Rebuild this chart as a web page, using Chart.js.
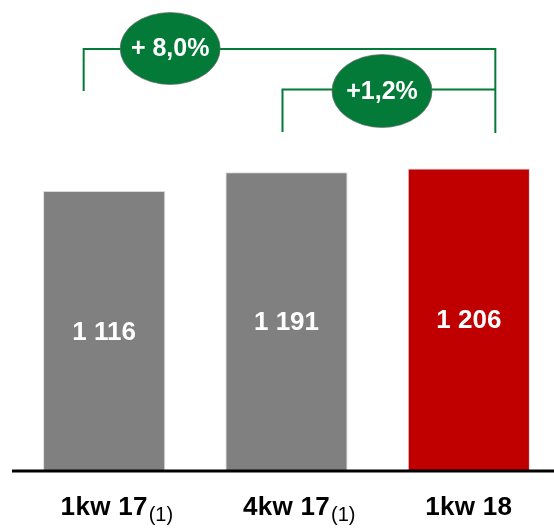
<!DOCTYPE html>
<html>
<head>
<meta charset="utf-8">
<script src="https://cdn.jsdelivr.net/npm/chart.js@4"></script>
<style>
  html, body { margin: 0; padding: 0; background: #fff; overflow: hidden; }
  #wrap { width: 554px; height: 528px; overflow: hidden; }
</style>
</head>
<body>
<div id="wrap"><canvas id="sales" width="560" height="528"></canvas></div>
<script>
// data
const periods = ['1kw 17', '4kw 17', '1kw 18'];
const footnotes = ['(1)', '(1)', ''];
const values = [1116, 1191, 1206];
const valueLabels = ['1 116', '1 191', '1 206'];
const changes = ['+ 8,0%', '+1,2%'];
const barColors = ['#808080', '#808080', '#c00000'];

const FONT = '"Liberation Sans", Arial, sans-serif';
const GREEN = '#037a37';

// labels, axis line and the growth brackets
const extras = {
    id: 'extras',
    afterDatasetsDraw(chart) {
        const c = chart.ctx;
        const xs = chart.scales.x;
        const ys = chart.scales.y;
        const meta = chart.getDatasetMeta(0);
        c.save();

        // values inside bars
        c.fillStyle = '#fff';
        c.font = 'bold 26px ' + FONT;
        c.textAlign = 'center';
        c.textBaseline = 'middle';
        meta.data.forEach((bar, i) => {
            const mid = (bar.y + bar.base) / 2;
            c.fillText(valueLabels[i], bar.x, mid + 2);
        });

        // base line
        const base = ys.getPixelForValue(0);
        c.strokeStyle = '#000';
        c.lineWidth = 3;
        c.beginPath();
        c.moveTo(12, base + 1);
        c.lineTo(chart.width, base + 1);
        c.stroke();

        // category labels, main text centred on the bar, footnote after it
        c.textBaseline = 'alphabetic';
        c.fillStyle = '#000';
        periods.forEach((p, i) => {
            const cx = xs.getPixelForValue(i);
            c.font = 'bold 26px ' + FONT;
            c.letterSpacing = '0.3px';
            const w = c.measureText(p).width;
            c.textAlign = 'left';
            const x0 = cx - w / 2;
            c.fillText(p, x0, base + 45);
            c.letterSpacing = '0px';
            if (footnotes[i]) {
                c.font = '20px ' + FONT;
                c.fillText(footnotes[i], x0 + w + 1, base + 51);
            }
        });

        // brackets
        const rightX = xs.getPixelForValue(2) + 26.5;
        const brackets = [
            { from: 0, top: 49, legEnd: 91, dx: -20.5, ex: 66, ey: 48.5, ry: 36, text: changes[0] },
            { from: 1, top: 89.5, legEnd: 132, dx: -4, ex: 95.5, ey: 91, ry: 36.5, text: changes[1] }
        ];
        c.strokeStyle = GREEN;
        c.lineWidth = 2;
        c.beginPath();
        c.moveTo(rightX, 48);
        c.lineTo(rightX, 133);
        c.stroke();
        brackets.forEach(b => {
            const cx = xs.getPixelForValue(b.from);
            const lx = cx + b.dx;
            c.strokeStyle = GREEN;
            c.lineWidth = 2;
            c.beginPath();
            c.moveTo(lx, b.legEnd);
            c.lineTo(lx, b.top);
            c.lineTo(rightX, b.top);
            c.stroke();

            c.beginPath();
            c.ellipse(cx + b.ex, b.ey, 50, b.ry, 0, 0, Math.PI * 2);
            c.fillStyle = GREEN;
            c.fill();
            c.lineWidth = 1;
            c.strokeStyle = 'rgba(110,110,110,0.7)';
            c.stroke();

            c.fillStyle = '#fff';
            c.font = 'bold 25px ' + FONT;
            c.textAlign = 'center';
            c.textBaseline = 'middle';
            c.fillText(b.text, cx + b.ex, b.ey + 1);
            c.textAlign = 'left';
            c.textBaseline = 'alphabetic';
        });

        c.restore();
    }
};

const ctx = document.getElementById('sales');
new Chart(ctx, {
    type: 'bar',
    data: {
        labels: periods,
        datasets: [{
            data: values,
            backgroundColor: barColors,
            borderColor: '#d9d9d9',
            borderWidth: 1,
            barPercentage: 0.67,
            categoryPercentage: 1
        }]
    },
    options: {
        responsive: false,
        animation: false,
        layout: { padding: { top: 70, bottom: 58, left: 13, right: 0 } },
        plugins: {
            legend: { display: false },
            tooltip: { enabled: false }
        },
        scales: {
            x: { display: false },
            y: { display: false, min: 0, max: 1600 }
        }
    },
    plugins: [extras]
});
</script>
</body>
</html>
